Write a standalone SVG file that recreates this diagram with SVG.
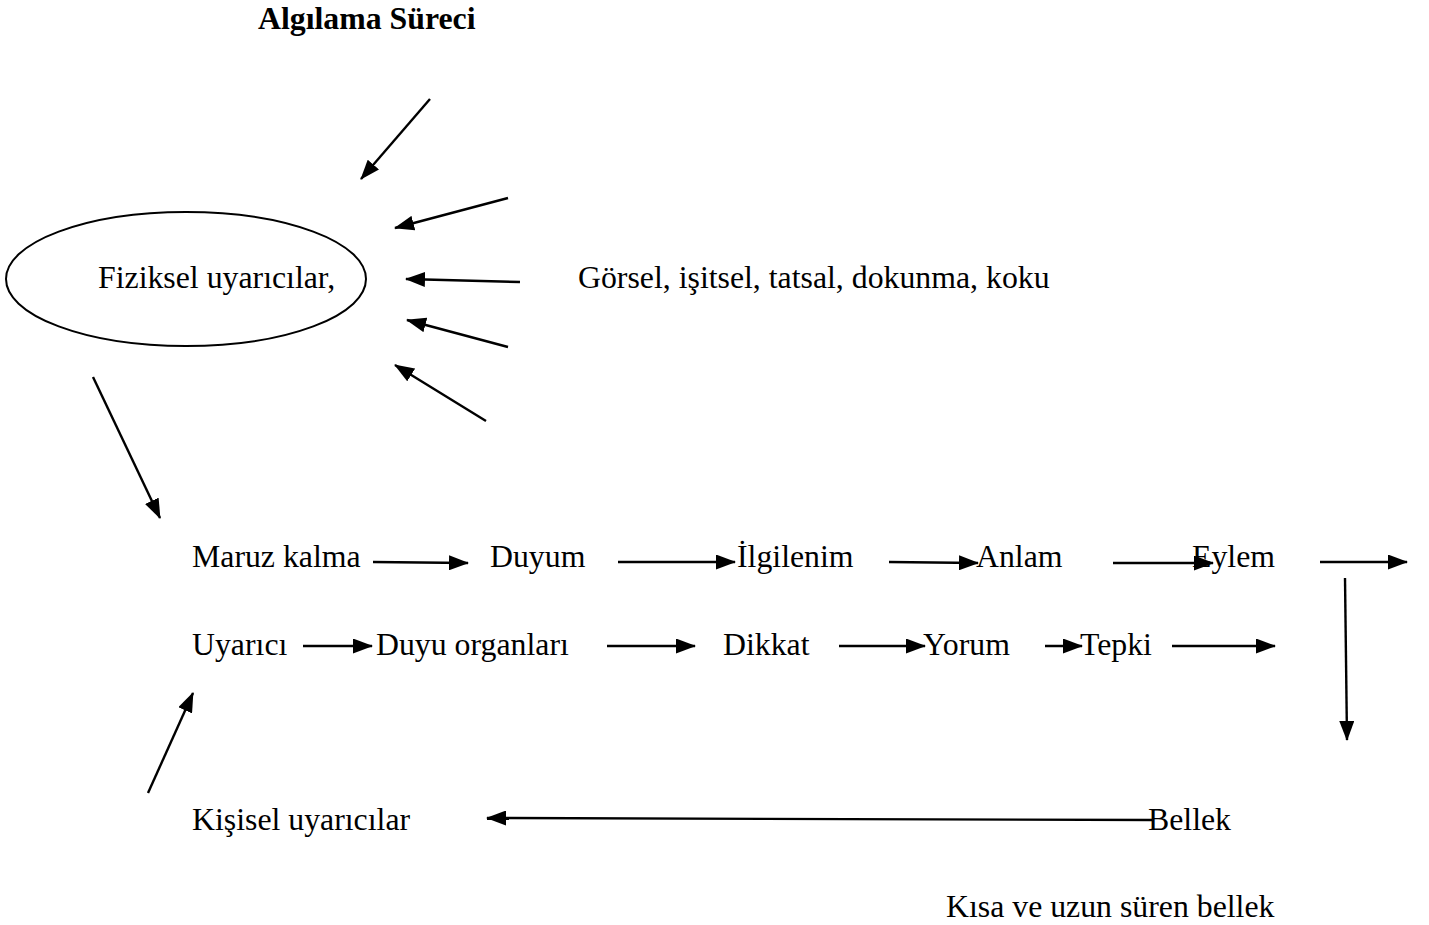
<svg xmlns="http://www.w3.org/2000/svg" width="1429" height="925" viewBox="0 0 1429 925">
<defs>
<marker id="ah" viewBox="0 0 20 15" refX="19" refY="7.5" markerWidth="20" markerHeight="15" markerUnits="userSpaceOnUse" orient="auto">
<path d="M0,0 L20,7.5 L0,15 z" fill="#000"/>
</marker>
<style>
text{font-family:"Liberation Serif","Times New Roman",serif;font-size:31.8px;fill:#000}
.title{font-weight:bold}
.c line{stroke:#000;stroke-width:2.4;marker-end:url(#ah)}
</style>
</defs>
<rect width="1429" height="925" fill="#fff"/>
<g id="title"><text class="title" x="258" y="29">Algılama Süreci</text></g>
<g id="fiziksel">
<ellipse cx="186" cy="279" rx="180" ry="67" fill="none" stroke="#000" stroke-width="2"/>
<text x="98" y="288">Fiziksel uyarıcılar,</text>
</g>
<g id="gorsel"><text x="578" y="288">Görsel, işitsel, tatsal, dokunma, koku</text></g>
<g id="maruz"><text x="192" y="567">Maruz kalma</text></g>
<g id="duyum"><text x="490" y="567">Duyum</text></g>
<g id="ilgilenim"><text x="737" y="567">İlgilenim</text></g>
<g id="anlam"><text x="976" y="567">Anlam</text></g>
<g id="eylem"><text x="1192" y="567">Eylem</text></g>
<g id="uyarici"><text x="192" y="655">Uyarıcı</text></g>
<g id="duyu"><text x="376" y="655">Duyu organları</text></g>
<g id="dikkat"><text x="723" y="655">Dikkat</text></g>
<g id="yorum"><text x="923" y="655">Yorum</text></g>
<g id="tepki"><text x="1080" y="655">Tepki</text></g>
<g id="kisisel"><text x="192" y="830">Kişisel uyarıcılar</text></g>
<g id="bellek"><text x="1148" y="830">Bellek</text></g>
<g id="kisa"><text x="946" y="917">Kısa ve uzun süren bellek</text></g>
<g class="c" id="connectors">
<line x1="430" y1="99" x2="361" y2="179"/>
<line x1="508" y1="198" x2="395" y2="228"/>
<line x1="520" y1="282" x2="406" y2="279"/>
<line x1="508" y1="347" x2="407" y2="320"/>
<line x1="486" y1="421" x2="395" y2="365"/>
<line x1="93" y1="377" x2="160" y2="518"/>
<line x1="148" y1="793" x2="193" y2="693"/>
<line x1="373" y1="562" x2="468" y2="563"/>
<line x1="618" y1="562" x2="735" y2="562"/>
<line x1="889" y1="562" x2="978" y2="563"/>
<line x1="1113" y1="563" x2="1213" y2="563"/>
<line x1="1320" y1="562" x2="1407" y2="562"/>
<line x1="303" y1="646" x2="372" y2="646"/>
<line x1="607" y1="646" x2="695" y2="646"/>
<line x1="839" y1="646" x2="925" y2="646"/>
<line x1="1045" y1="646" x2="1082" y2="646"/>
<line x1="1172" y1="646" x2="1275" y2="646"/>
<line x1="1345" y1="578" x2="1347" y2="740"/>
<line x1="1152" y1="820" x2="487" y2="818"/>
</g>
</svg>
